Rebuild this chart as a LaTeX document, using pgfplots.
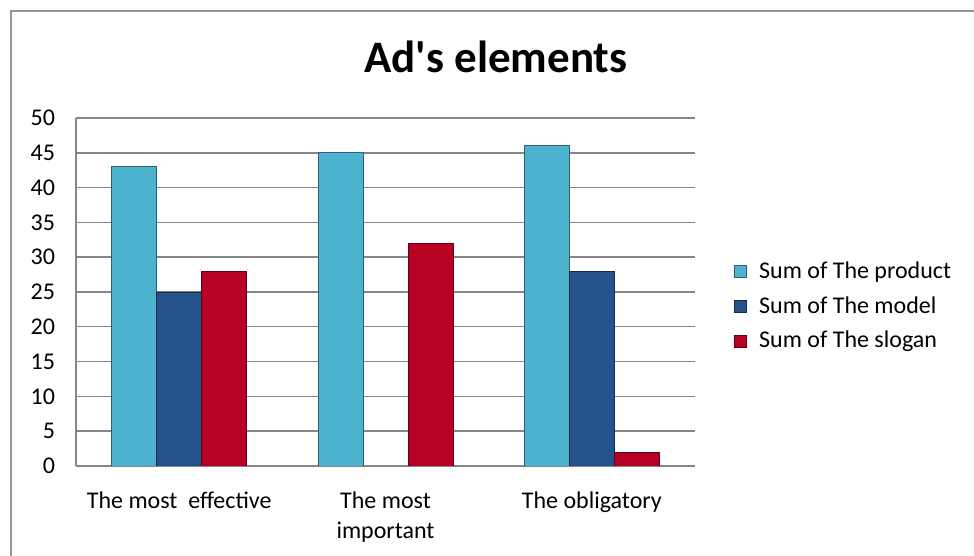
\documentclass[border=0pt]{standalone}
\usepackage{fontspec}
\setmainfont{Carlito}
\usepackage{pgfplots}
\pgfplotsset{compat=1.18}

\definecolor{prodc}{RGB}{76,178,205}
\definecolor{modelc}{RGB}{37,82,138}
\definecolor{sloganc}{RGB}{182,0,36}
\definecolor{gridc}{RGB}{134,134,134}
\definecolor{framec}{RGB}{150,150,150}

\begin{document}
\begin{tikzpicture}[x=1pt,y=1pt]
\useasboundingbox (0,0) rectangle (487,278);
% outer chart frame (right and bottom edges fall outside the picture)
\draw[framec, line width=0.8pt] (5.5,-2) -- (5.5,272.5) -- (490,272.5);
\node[anchor=base, font=\fontsize{22.5}{27}\selectfont\bfseries] at (248,241.5) {Ad\textquotesingle s elements};

\begin{axis}[
    at={(38pt,45pt)}, anchor=south west,
    scale only axis,
    width=309.5pt, height=174pt,
    xmin=-0.5, xmax=2.5,
    ymin=0, ymax=50,
    ytick={0,5,...,50},
    xtick={0,1,2},
    xticklabels={The most\ \ effective, The most\\important, The obligatory},
    xticklabel style={align=center, yshift=-9.5pt},
    yticklabel style={xshift=-7pt},
    major tick length=0pt,
    axis x line*=bottom, axis y line*=left,
    axis line style={gridc, line width=0.7pt, -},
    ymajorgrids,
    grid style={gridc, line width=0.7pt},
    ybar=0pt, bar width=22.5pt,
    font=\fontsize{12}{15}\selectfont,
    /pgf/number format/assume math mode=true,
    legend style={at={(1.063,0.459)}, anchor=west, draw=none, fill=none,
        inner xsep=0pt, row sep=3.6pt, font=\fontsize{12}{14}\selectfont,
        /tikz/every odd column/.append style={column sep=4pt}},
    legend cell align=left,
    legend image code/.code={\fill[#1] (0pt,-3pt) rectangle (6pt,3pt);},
]
\addplot[draw=prodc!55!black, line width=0.4pt, fill=prodc]
    coordinates {(0,43) (1,45) (2,46)};
\addplot[draw=modelc!55!black, line width=0.4pt, fill=modelc]
    coordinates {(0,25) (2,28)};
\addplot[draw=sloganc!55!black, line width=0.4pt, fill=sloganc]
    coordinates {(0,28) (1,32) (2,2)};
\legend{Sum of The product, Sum of The model, Sum of The slogan}
\end{axis}
\end{tikzpicture}
\end{document}
